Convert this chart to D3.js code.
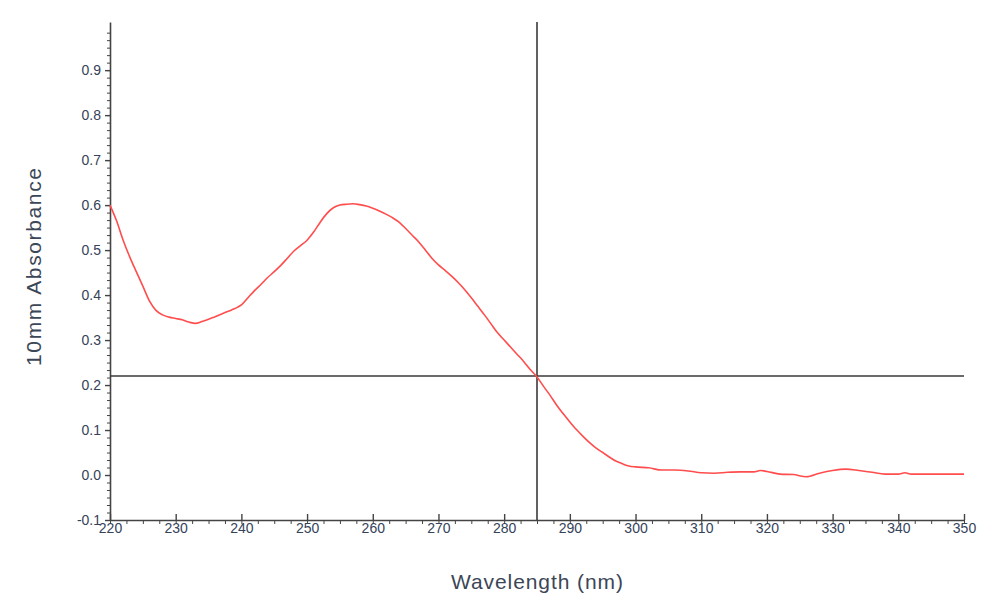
<!DOCTYPE html>
<html>
<head>
<meta charset="utf-8">
<script src="https://cdn.jsdelivr.net/npm/d3@7/dist/d3.min.js"></script>
<style>
  body { margin: 0; background: #fff; }
  .tick text { font-family: "Liberation Sans", Arial, sans-serif; font-size: 14px; fill: #34425a; }
  .axis path, .axis line { stroke: #444; }
</style>
</head>
<body>
<div id="chart"></div>
<script>
// wavelength (nm) and 10mm absorbance
var wavelength = [220, 221, 222, 223, 224, 225, 226, 227, 228, 229, 230, 231, 232, 233, 234, 235, 236, 237, 238, 239,
  240, 241, 242, 243, 244, 245, 246, 247, 248, 249, 250, 251, 252, 253, 254, 255, 256, 257, 258, 259,
  260, 261, 262, 263, 264, 265, 266, 267, 268, 269, 270, 271, 272, 273, 274, 275, 276, 277, 278, 279,
  280, 281, 282, 283, 284, 285, 286, 287, 288, 289, 290, 291, 292, 293, 294, 295, 296, 297, 298, 299,
  300, 302, 304, 306, 308, 310, 312, 314, 316, 318, 319, 320, 322, 324, 326, 328, 330, 332, 334, 336,
  338, 340, 341, 342, 344, 346, 348, 350];
var absorbance = [0.600, 0.565, 0.522, 0.485, 0.452, 0.420, 0.387, 0.366, 0.356, 0.351, 0.348, 0.345, 0.340, 0.337, 0.341, 0.346, 0.352, 0.358, 0.364, 0.370,
  0.378, 0.394, 0.410, 0.424, 0.439, 0.452, 0.466, 0.482, 0.498, 0.510, 0.522, 0.540, 0.562, 0.581, 0.594, 0.600, 0.602, 0.603, 0.601, 0.598,
  0.593, 0.587, 0.580, 0.572, 0.562, 0.548, 0.533, 0.518, 0.500, 0.482, 0.467, 0.455, 0.442, 0.428, 0.412, 0.394, 0.375, 0.356, 0.336, 0.316,
  0.300, 0.284, 0.268, 0.252, 0.234, 0.218, 0.197, 0.177, 0.155, 0.136, 0.118, 0.101, 0.086, 0.072, 0.060, 0.050, 0.040, 0.031, 0.025, 0.020,
  0.018, 0.016, 0.011, 0.011, 0.009, 0.005, 0.004, 0.006, 0.007, 0.007, 0.010, 0.008, 0.002, 0.001, -0.004, 0.004, 0.010, 0.013, 0.010, 0.006,
  0.002, 0.002, 0.005, 0.002, 0.002, 0.002, 0.002, 0.002];

var xTicks = [220, 230, 240, 250, 260, 270, 280, 290, 300, 310, 320, 330, 340, 350];
var yTicks = [-0.1, 0.0, 0.1, 0.2, 0.3, 0.4, 0.5, 0.6, 0.7, 0.8, 0.9];

// cursor position (crosshair)
var cursorX = 285;
var cursorY = 0.22;

var w = 1000, h = 607;
var margin = { top: 22, right: 36, bottom: 87, left: 110 };

var svg = d3.select("#chart")
  .append("svg")
    .attr("width", w)
    .attr("height", h);

var xScale = d3.scaleLinear().domain([220, 350]).range([margin.left, w - margin.right]);
var yScale = d3.scaleLinear().domain([-0.1, 1.007]).range([h - margin.bottom, margin.top]);

// minor ticks first, then main axes on top
var xMinor = d3.range(220, 350.1, 2.5);
var yMinor = d3.range(-0.1, 1.0, 0.1 / 6);

svg.append("g")
  .attr("class", "axis")
  .attr("transform", "translate(0," + yScale(-0.1) + ")")
  .call(d3.axisBottom(xScale).tickValues(xMinor).tickSize(4).tickFormat(""))
  .call(function(g) { g.select(".domain").remove(); });

svg.append("g")
  .attr("class", "axis")
  .attr("transform", "translate(" + xScale(220) + ",0)")
  .call(d3.axisLeft(yScale).tickValues(yMinor).tickSize(3).tickFormat(""))
  .call(function(g) { g.select(".domain").remove(); });

var xAxis = d3.axisBottom(xScale).tickValues(xTicks).tickSize(6).tickSizeOuter(0).tickFormat(d3.format("d"));
var yAxis = d3.axisLeft(yScale).tickValues(yTicks).tickSize(5).tickSizeOuter(0)
  .tickFormat(function(d) { return d.toFixed(1); }); // plain hyphen for -0.1

svg.append("g")
  .attr("class", "axis")
  .attr("transform", "translate(0," + yScale(-0.1) + ")")
  .call(xAxis)
  .call(function(g) {
    g.select(".domain").attr("stroke-width", 1.6);
    g.selectAll(".tick line").attr("y1", -6).attr("y2", 0).attr("stroke-width", 1.4);
    g.selectAll(".tick text").attr("dy", "0.3em").attr("y", 9);
  });

svg.append("g")
  .attr("class", "axis")
  .attr("transform", "translate(" + xScale(220) + ",0)")
  .call(yAxis)
  .call(function(g) {
    g.select(".domain").attr("stroke-width", 1.6);
    g.selectAll(".tick line").attr("stroke-width", 1.4);
    g.selectAll(".tick text").attr("x", -9);
  });

// crosshair
svg.append("line")
  .attr("x1", xScale(cursorX)).attr("x2", xScale(cursorX))
  .attr("y1", yScale(1.007)).attr("y2", yScale(-0.1))
  .attr("stroke", "#3a3a3a").attr("stroke-width", 1.6);

svg.append("line")
  .attr("x1", xScale(220)).attr("x2", xScale(350))
  .attr("y1", yScale(cursorY)).attr("y2", yScale(cursorY))
  .attr("stroke", "#3a3a3a").attr("stroke-width", 1.6);

// spectrum
var data = wavelength.map(function(d, i) { return { x: d, y: absorbance[i] }; });

var line = d3.line()
  .x(function(d) { return xScale(d.x); })
  .y(function(d) { return yScale(d.y); })
  .curve(d3.curveMonotoneX);

svg.append("path")
  .datum(data)
  .attr("fill", "none")
  .attr("stroke", "#ff4d4d")
  .attr("stroke-width", 1.6)
  .attr("d", line);

// axis titles
svg.append("text")
  .attr("x", xScale(285))
  .attr("y", 589)
  .attr("text-anchor", "middle")
  .attr("textLength", 172)
  .attr("font-family", "'Liberation Sans', Arial, sans-serif")
  .attr("font-size", 21)
  .attr("fill", "#3b4656")
  .text("Wavelength (nm)");

svg.append("text")
  .attr("transform", "translate(41,267) rotate(-90)")
  .attr("text-anchor", "middle")
  .attr("textLength", 198)
  .attr("font-family", "'Liberation Sans', Arial, sans-serif")
  .attr("font-size", 21)
  .attr("fill", "#3b4656")
  .text("10mm Absorbance");
</script>
</body>
</html>
